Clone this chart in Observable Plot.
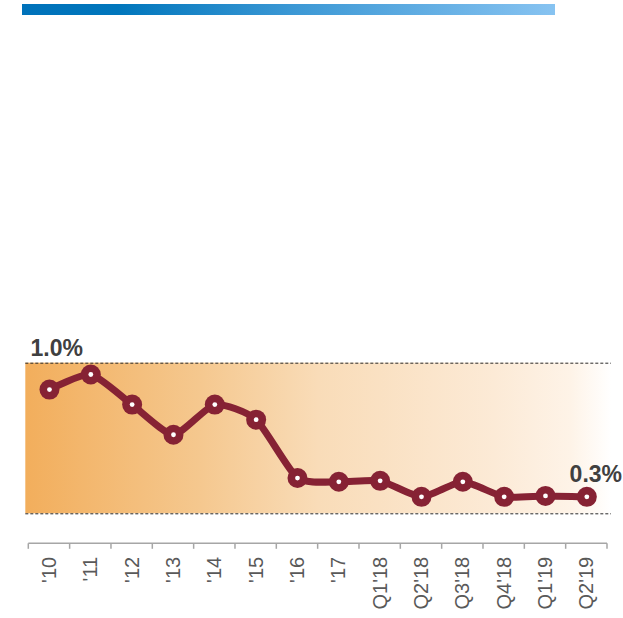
<!DOCTYPE html>
<html>
<head>
<meta charset="utf-8">
<script src="https://cdn.jsdelivr.net/npm/d3@7"></script>
<script src="https://cdn.jsdelivr.net/npm/@observablehq/plot@0.6"></script>
<style>
  html, body { margin: 0; padding: 0; background: #fff; overflow: hidden; }
  #wrap { position: relative; width: 623px; height: 618px; }
  #bar { position: absolute; left: 22px; top: 4px; width: 533px; height: 11px;
         background: linear-gradient(to right, #0072BA 0%, #0076BC 18%, #3A97D4 50%, #87C3F1 100%); }
  #chart svg { display: block; }
</style>
</head>
<body>
<div id="wrap">
  <div id="chart"></div>
  <div id="bar"></div>
</div>
<script>
const categories = ["'10", "'11", "'12", "'13", "'14", "'15", "'16", "'17",
  "Q1'18", "Q2'18", "Q3'18", "Q4'18", "Q1'19", "Q2'19"];
const values = [0.86, 0.94, 0.78, 0.62, 0.78, 0.70, 0.39, 0.37, 0.375, 0.29, 0.37, 0.29, 0.295, 0.29];
const bandRange = [0.2, 1.0];
const labelCats = ["'10", "Q2'19"];
const labelValues = [1.0, 0.29];
const labelTexts = ["1.0%", "0.3%"];

const data = categories.map((c, i) => ({cat: c, value: values[i]}));

const maroon = "#862234";

// background gradient band between the two dashed lines
function band(index, scales, vals, dims) {
  const g = d3.create("svg:g");
  const id = "bandGrad";
  const lg = g.append("defs").append("linearGradient").attr("id", id)
    .attr("x1", "0%").attr("x2", "100%").attr("y1", "0%").attr("y2", "0%");
  [[0, "#F2AE5C"], [0.3, "#F5C88F"], [0.5, "#F9DCB8"], [0.8, "#FCEAD6"], [0.93, "#FEF3E7"], [1, "#FFFFFF"]]
    .forEach(([o, c]) => lg.append("stop").attr("offset", o).attr("stop-color", c));
  const x0 = dims.marginLeft - 3;
  const x1 = dims.width - dims.marginRight + 4;
  const yTop = scales.y(bandRange[1]);
  const yBot = scales.y(bandRange[0]);
  g.append("rect").attr("x", x0).attr("y", yTop).attr("width", x1 - x0).attr("height", yBot - yTop)
    .attr("fill", `url(#${id})`);
  return g.node();
}

// axis line with ticks at band boundaries
function axisLine(index, scales, vals, dims) {
  const g = d3.create("svg:g").attr("stroke", "#A6A6A6").attr("stroke-width", 1.5);
  const y = dims.height - dims.marginBottom;
  const x0 = dims.marginLeft, x1 = dims.width - dims.marginRight;
  g.append("line").attr("x1", x0).attr("x2", x1).attr("y1", y).attr("y2", y);
  const xs = categories.map(c => scales.x(c)).concat([x1]);
  xs.forEach(x => g.append("line").attr("x1", x).attr("x2", x).attr("y1", y).attr("y2", y + 5.5));
  return g.node();
}

const plot = Plot.plot({
  width: 623,
  height: 618,
  marginLeft: 28.3,
  marginRight: 16,
  marginTop: 20,
  marginBottom: 74.7,
  style: {fontFamily: "Liberation Sans, Arial, sans-serif", background: "transparent"},
  x: {type: "band", domain: categories, padding: 0, round: false},
  y: {domain: bandRange, range: [513.3, 362.7], axis: null},
  marks: [
    band,
    Plot.ruleY(bandRange, {stroke: "#2b2b2b", strokeWidth: 1, strokeDasharray: "3,2", insetLeft: -3, insetRight: -4}),
    axisLine,
    Plot.axisX({tickSize: 0, tickPadding: 13, tickRotate: -90, fontSize: 20, fill: "#595959", label: null}),
    Plot.line(data, {x: "cat", y: "value", stroke: maroon, strokeWidth: 7, curve: "cardinal", tension: 0.4}),
    Plot.dot(data, {x: "cat", y: "value", r: 10, fill: maroon, stroke: "none"}),
    Plot.dot(data, {x: "cat", y: "value", r: 2.4, fill: "white", stroke: "none"}),
    Plot.text([0], {x: () => labelCats[0], y: () => labelValues[0], text: () => labelTexts[0],
      textAnchor: "start", dx: -19, dy: -15, fontSize: 23, fontWeight: "bold", fill: "#404040"}),
    Plot.text([1], {x: () => labelCats[1], y: () => labelValues[1], text: () => labelTexts[1],
      textAnchor: "middle", dx: 9, dy: -22, fontSize: 23, fontWeight: "bold", fill: "#404040"})
  ]
});
document.getElementById("chart").appendChild(plot);
</script>
</body>
</html>
